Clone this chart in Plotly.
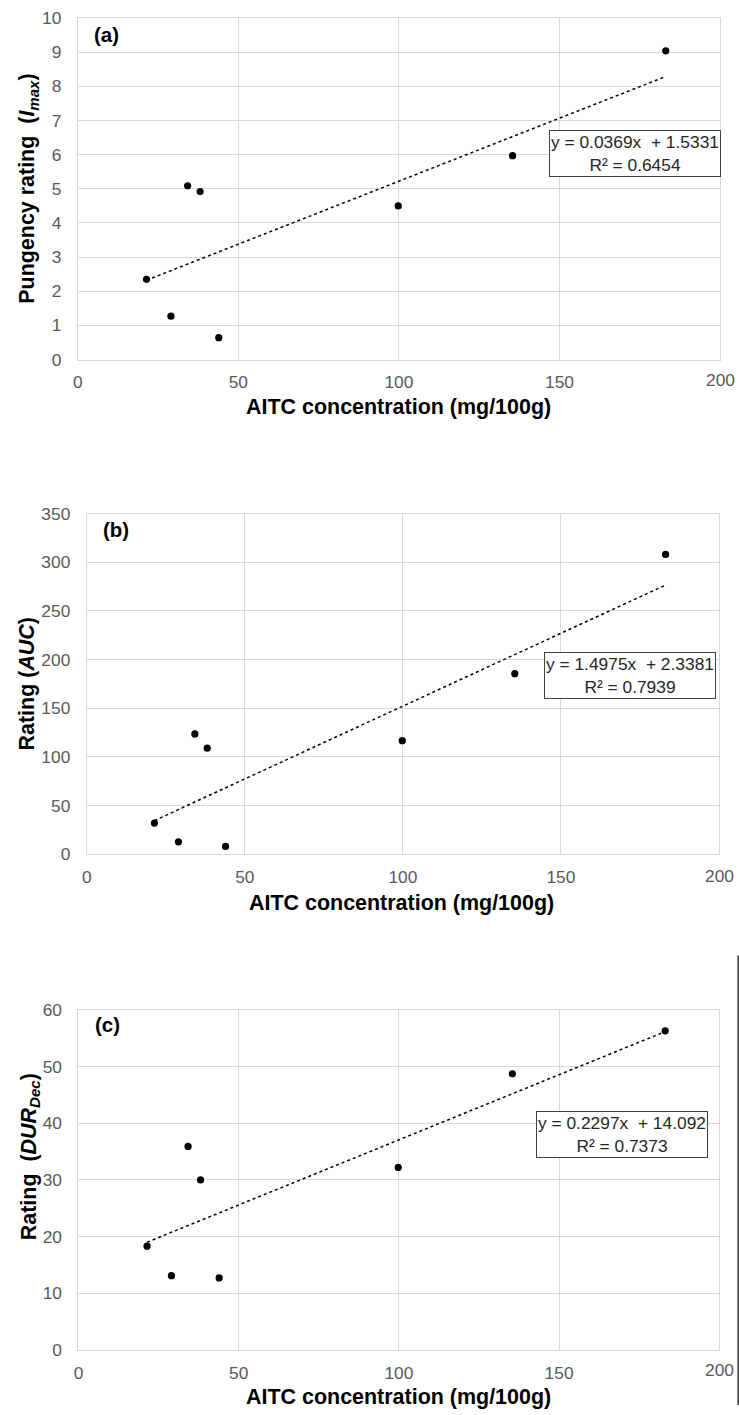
import plotly.graph_objects as go
import numpy as np

# ---- data ----
aitc = [21.4, 29.0, 34.2, 38.1, 43.9, 99.8, 135.4, 183.1]
imax = [2.35, 1.27, 5.09, 4.92, 0.64, 4.50, 5.97, 9.04]
auc = [31.8, 12.6, 123.5, 108.8, 7.8, 116.6, 185.4, 308.0]
dur_dec = [18.3, 13.1, 35.9, 30.0, 12.7, 32.2, 48.7, 56.3]

# trendline coefficients printed on the chart
fit_a = (0.0369, 1.5331, 0.6454)
fit_b = (1.4975, 2.3381, 0.7939)
fit_c = (0.2297, 14.092, 0.7373)

eq_a = "y = 0.0369x  + 1.5331<br>R² = 0.6454"
eq_b = "y = 1.4975x  + 2.3381<br>R² = 0.7939"
eq_c = "y = 0.2297x  + 14.092<br>R² = 0.7373"

y_ranges = [[0, 10], [0, 350], [0, 60]]
y_dticks = [1, 50, 10]
x_range = [0, 200]
x_tickvals = [0, 50, 100, 150]
x_last_tick = "200"

panel_labels = ["(a)", "(b)", "(c)"]
y_titles = ["Pungency rating  (<i>I<sub>max</sub></i>)",
            "Rating (<i>AUC</i>)",
            "Rating  (<i>DUR<sub>Dec</sub></i>)"]
x_title = "AITC concentration (mg/100g)"

W, H = 739, 1415
FONT = "Liberation Sans, Arial, sans-serif"

# map wanted screen positions to figure paper coordinates
SX, OX = 0.996, 3.0
SY, OY = 0.98744, 7.9
FS = 1.022  # font compensation

def px(x):
    return min(max((x - OX) / SX / W, 0), 1)

def py(y):
    return min(max(1 - (y - OY) / SY / H, 0), 1)

# plot-area boxes in screen pixels (left, right, top, bottom)
boxes = [(76, 720, 16, 358), (85, 719, 512.3, 853.3), (76.7, 719.3, 1009.3, 1350)]

fig = go.Figure()
series = [imax, auc, dur_dec]
fits = [fit_a, fit_b, fit_c]
eqs = [eq_a, eq_b, eq_c]

annotations = []
for i in range(3):
    n = "" if i == 0 else str(i + 1)
    xa, ya = "x" + n, "y" + n
    l, r, t, b = boxes[i]
    fig.add_trace(go.Scatter(x=aitc, y=series[i], mode="markers",
                             marker=dict(color="black", size=7.2),
                             xaxis=xa, yaxis=ya, showlegend=False))
    slope, icpt, _ = fits[i]
    xl = np.array([min(aitc), max(aitc)])
    fig.add_trace(go.Scatter(x=xl, y=slope * xl + icpt, mode="lines",
                             line=dict(color="black", width=1.5, dash="dot"),
                             xaxis=xa, yaxis=ya, showlegend=False))
    axcommon = dict(showgrid=True, gridcolor="#d9d9d9", gridwidth=1,
                    showline=True, linecolor="#d9d9d9", linewidth=1, mirror=True,
                    zeroline=False, ticks="",
                    tickfont=dict(family=FONT, size=17 * FS, color="#595959"))
    fig.update_layout(**{
        "xaxis" + n: dict(domain=[px(l), px(r)], range=x_range, tickvals=x_tickvals,
                          anchor=ya, ticklabelstandoff=7, **axcommon),
        "yaxis" + n: dict(domain=[py(b), py(t)], range=y_ranges[i], dtick=y_dticks[i],
                          tick0=0, anchor=xa, ticklabelstandoff=12, **axcommon),
    })

# last x tick label, placed under the right end of each x axis
for yy, xx in zip([378, 875, 1370], [720, 719, 719.3]):
    annotations.append(dict(text=x_last_tick, x=px(xx), y=py(yy), xref="paper", yref="paper",
                            showarrow=False, xanchor="center", yanchor="middle",
                            font=dict(family=FONT, size=17 * FS, color="#595959")))

# panel labels
lab_pos = [(104.5, 32), (114.7, 528), (105.7, 1024)]
for i, (x, y) in enumerate(lab_pos):
    annotations.append(dict(text="<b>%s</b>" % panel_labels[i], x=px(x), y=py(y),
                            xref="paper", yref="paper", showarrow=False,
                            xanchor="center", yanchor="middle",
                            font=dict(family=FONT, size=20 * FS, color="black")))

# y titles
yt_pos = [(27, 187), (25, 682.5), (28, 1156)]
for i, (x, y) in enumerate(yt_pos):
    annotations.append(dict(text="<b>%s</b>" % y_titles[i], x=px(x), y=py(y),
                            xref="paper", yref="paper", showarrow=False,
                            textangle=-90, xanchor="center", yanchor="middle",
                            font=dict(family=FONT, size=21 * FS, color="black")))

# x titles
xt_pos = [(398, 406), (401, 902), (398, 1397)]
for (x, y) in xt_pos:
    annotations.append(dict(text="<b>%s</b>" % x_title, x=px(x), y=py(y),
                            xref="paper", yref="paper", showarrow=False,
                            xanchor="center", yanchor="middle",
                            font=dict(family=FONT, size=21 * FS, color="black")))

# equation boxes
eq_pos = [(634.5, 152), (630, 674.5), (621.7, 1134.5)]
for i, (x, y) in enumerate(eq_pos):
    annotations.append(dict(text=eqs[i], x=px(x), y=py(y),
                            xref="paper", yref="paper", showarrow=False,
                            xanchor="center", yanchor="middle", align="center",
                            bgcolor="white", bordercolor="#404040", borderwidth=1,
                            borderpad=1,
                            font=dict(family=FONT, size=17 * FS, color="#262626")))

fig.update_layout(
    width=W, height=H, margin=dict(l=0, r=0, t=0, b=0), autosize=False,
    paper_bgcolor="white", plot_bgcolor="white",
    annotations=annotations,
    shapes=[dict(type="line", xref="paper", yref="paper",
                 x0=0.9988, x1=0.9988, y0=0, y1=py(955),
                 line=dict(color="black", width=1.2))],
)

fig.write_html("out.html")
